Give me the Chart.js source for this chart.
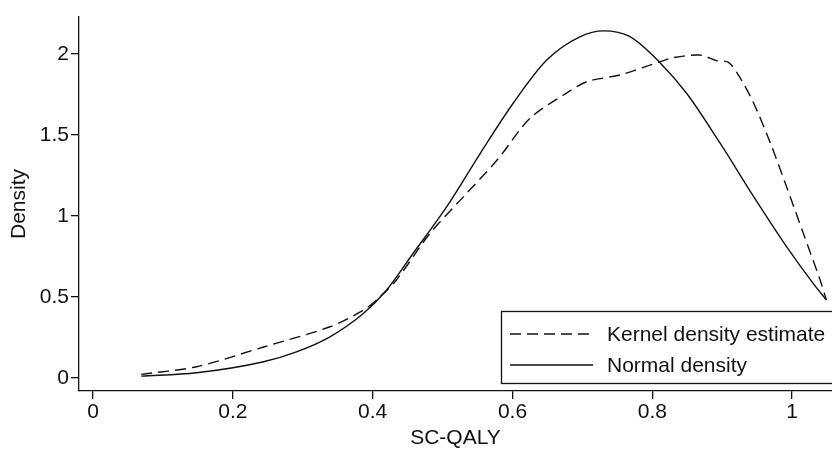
<!DOCTYPE html>
<html>
<head>
<meta charset="utf-8">
<script src="https://cdn.jsdelivr.net/npm/chart.js@4"></script>
<style>
  html, body { margin: 0; padding: 0; background: #fff; overflow: hidden; }
  canvas { display: block; }
</style>
</head>
<body>
<canvas id="c" width="832" height="451"></canvas>
<script>
const kdeLabel = "Kernel density estimate";
const normLabel = "Normal density";
const kdeX = [0.069, 0.148, 0.244, 0.339, 0.387, 0.408, 0.434, 0.482, 0.530, 0.578, 0.625, 0.673, 0.706, 0.754, 0.811, 0.830, 0.868, 0.892, 0.909, 0.926, 0.945, 0.969, 0.992, 1.016, 1.040, 1.049];
const kdeY = [0.021, 0.068, 0.19, 0.315, 0.418, 0.49, 0.604, 0.892, 1.119, 1.345, 1.603, 1.747, 1.829, 1.871, 1.953, 1.978, 1.994, 1.959, 1.949, 1.850, 1.696, 1.449, 1.180, 0.892, 0.604, 0.48];
const normX = [0.069, 0.148, 0.244, 0.291, 0.339, 0.387, 0.42, 0.458, 0.506, 0.554, 0.601, 0.649, 0.697, 0.730, 0.768, 0.811, 0.849, 0.897, 0.945, 0.992, 1.030, 1.049];
const normY = [0.01, 0.031, 0.099, 0.16, 0.253, 0.398, 0.542, 0.769, 1.057, 1.387, 1.696, 1.963, 2.108, 2.143, 2.108, 1.947, 1.758, 1.449, 1.119, 0.810, 0.583, 0.48];
const xTicks = [0, 0.2, 0.4, 0.6, 0.8, 1];
const yTicks = [0, 0.5, 1, 1.5, 2];
const xTitle = "SC-QALY";
const yTitle = "Density";

const FONT = "'Liberation Sans', Arial, Helvetica, sans-serif";
const FS = 21;
const INK = "#111111";

const toPts = (xs, ys) => xs.map((x, i) => ({ x: x, y: ys[i] }));

const legendBox = {
  id: 'legendBox',
  afterDraw(chart) {
    const ctx = chart.ctx;
    const ds = chart.data.datasets;
    ctx.save();
    ctx.strokeStyle = INK;
    ctx.lineWidth = 1.3;
    ctx.setLineDash([]);
    ctx.strokeRect(501.5, 311.5, 340, 72);
    const rows = [334, 365];
    ds.forEach((d, i) => {
      const y = rows[i];
      ctx.beginPath();
      ctx.setLineDash(d.borderDash || []);
      ctx.lineWidth = d.borderWidth;
      ctx.strokeStyle = d.borderColor;
      ctx.moveTo(510, y);
      ctx.lineTo(593, y);
      ctx.stroke();
      ctx.setLineDash([]);
      ctx.fillStyle = INK;
      ctx.font = FS + "px " + FONT;
      ctx.textBaseline = 'middle';
      ctx.textAlign = 'left';
      ctx.fillText(d.label, 607, y + 1);
    });
    ctx.restore();
  }
};

new Chart(document.getElementById('c'), {
  type: 'scatter',
  data: {
    datasets: [
      { label: kdeLabel, data: toPts(kdeX, kdeY), showLine: true, borderColor: INK, borderWidth: 1.4,
        borderDash: [11, 6], pointRadius: 0, tension: 0.3, fill: false },
      { label: normLabel, data: toPts(normX, normY), showLine: true, borderColor: INK, borderWidth: 1.4,
        pointRadius: 0, cubicInterpolationMode: 'monotone', fill: false }
    ]
  },
  options: {
    responsive: false,
    animation: false,
    devicePixelRatio: 1,
    layout: { padding: { top: 17, left: 0, right: 0, bottom: 0 } },
    plugins: { legend: { display: false }, tooltip: { enabled: false } },
    scales: {
      x: {
        type: 'linear', min: -0.02, max: 1.057,
        afterBuildTicks: s => { s.ticks = xTicks.map(v => ({ value: v })); },
        afterFit: s => { s.height = 60; },
        border: { display: true, color: INK, width: 1.3 },
        grid: { display: true, drawOnChartArea: false, drawTicks: true, tickLength: 8, color: INK, lineWidth: 1.3 },
        ticks: { color: INK, font: { family: FONT, size: FS }, padding: 1, maxRotation: 0,
                 callback: v => String(v) },
        title: { display: true, text: xTitle, color: INK, font: { family: FONT, size: FS }, padding: { top: 0, bottom: 0 } }
      },
      y: {
        type: 'linear', min: -0.082, max: 2.229,
        afterBuildTicks: s => { s.ticks = yTicks.map(v => ({ value: v })); },
        afterFit: s => { s.width = 79; },
        border: { display: true, color: INK, width: 1.3 },
        grid: { display: true, drawOnChartArea: false, drawTicks: true, tickLength: 8, color: INK, lineWidth: 1.3 },
        ticks: { color: INK, font: { family: FONT, size: FS }, padding: 2,
                 callback: v => String(v) },
        title: { display: true, text: yTitle, color: INK, font: { family: FONT, size: FS }, padding: { top: 7, bottom: 0 } }
      }
    }
  },
  plugins: [legendBox]
});
</script>
</body>
</html>
